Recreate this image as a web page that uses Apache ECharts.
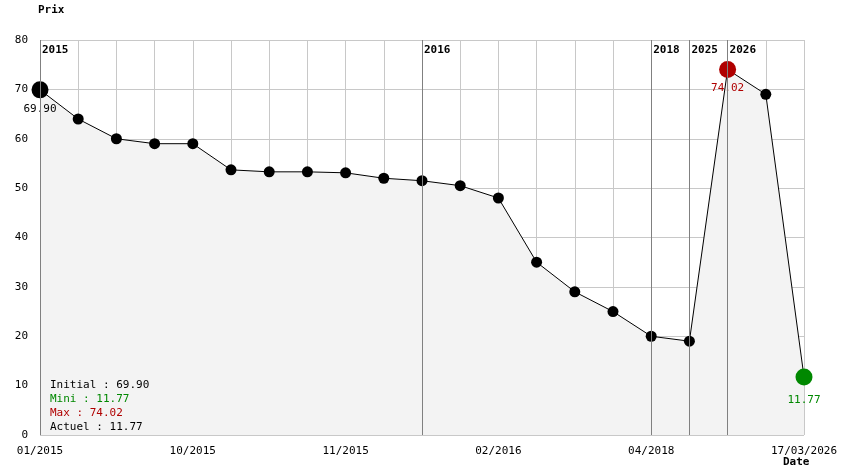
<!DOCTYPE html><html><head><meta charset="utf-8">
<script src="https://cdn.jsdelivr.net/npm/echarts@6/dist/echarts.min.js"></script>
<style>body{margin:0}#c{width:844px;height:474px}</style></head><body><div id="c"></div><script>
const categories=['01/2015','','','','10/2015','','','','11/2015','','','','02/2016','','','','04/2018','','','','17/03/2026'];
const values=[69.9,64,60,59,59,53.7,53.3,53.3,53.1,52,51.5,50.5,48,35,29,25,20,19,74.02,69,11.77];
const yearIdx=[0,10,16,17,18];
const yearLabels=['2015','2016','2018','2025','2026'];
const F='DejaVu Sans Mono';
const chart=echarts.init(document.getElementById('c'));
const data=values.map((v,i)=>{
 if(i===0)return{value:v,symbolSize:17,itemStyle:{color:'#000'},label:{show:true,formatter:'69.90',position:'bottom',color:'#000'}};
 if(i===18)return{value:v,symbolSize:17,itemStyle:{color:'#b00000'},label:{show:true,formatter:'74.02',position:'bottom',color:'#b00000'}};
 if(i===20)return{value:v,symbolSize:17,itemStyle:{color:'#008800'},label:{show:true,formatter:'11.77',position:'bottom',offset:[0,4],color:'#008800'}};
 return v;});
const txt=(l,t,s,c,w)=>({type:'text',left:l,top:t,z:100,style:{text:s,fontFamily:F,fontSize:11,fontWeight:w||'normal',fill:c}});
chart.setOption({
 animation:false,
 grid:{left:40,right:40,top:40,bottom:39},
 textStyle:{fontFamily:F},
 xAxis:{type:'category',data:categories,boundaryGap:false,
  axisLine:{show:false},axisTick:{show:false},
  axisLabel:{interval:0,color:'#000',fontFamily:F,fontSize:11,margin:11},
  splitLine:{show:true,interval:0,lineStyle:{color:'#c8c8c8'}}},
 yAxis:{type:'value',min:0,max:80,interval:10,name:'Prix',nameLocation:'end',nameGap:24,
  nameTextStyle:{fontFamily:F,fontWeight:'bold',fontSize:11,color:'#000',align:'left',padding:[0,0,0,-2]},
  axisLine:{show:false},axisTick:{show:false},
  axisLabel:{color:'#000',fontFamily:F,fontSize:11,margin:12},
  splitLine:{lineStyle:{color:'#c8c8c8'}}},
 series:[{type:'line',data:data,symbol:'circle',symbolSize:11,itemStyle:{color:'#000'},
  lineStyle:{color:'#000',width:1},areaStyle:{color:'#f3f3f3',opacity:1},
  label:{fontFamily:F,fontSize:11},
  markLine:{silent:true,symbol:'none',label:{show:false},lineStyle:{color:'#808080',type:'solid',width:1},
   data:yearIdx.map(i=>({xAxis:i}))},z:3},
  {type:'scatter',symbolSize:0,silent:true,data:yearIdx.map((i,k)=>({value:[i,80],name:yearLabels[k]})),
   label:{show:true,formatter:p=>p.name,position:'right',offset:[-3,10],fontFamily:F,fontWeight:'bold',fontSize:11,color:'#000',opacity:1},z:4}],
 graphic:[txt(50,380,'Initial : 69.90','#000'),txt(50,394,'Mini : 11.77','#008800'),
  txt(50,408,'Max : 74.02','#b00000'),txt(50,422,'Actuel : 11.77','#000'),
  txt(783,457,'Date','#000','bold')]
});
</script></body></html>
